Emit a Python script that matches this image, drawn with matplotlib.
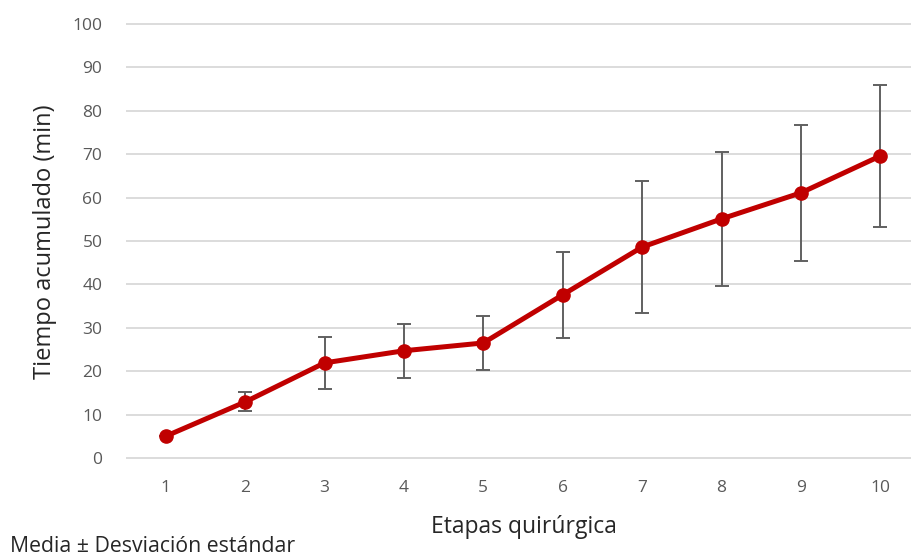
import matplotlib
matplotlib.use("Agg")
import matplotlib.pyplot as plt
import numpy as np

etapas = [1, 2, 3, 4, 5, 6, 7, 8, 9, 10]
media = [5.0, 12.9, 21.9, 24.7, 26.5, 37.6, 48.6, 55.1, 61.1, 69.6]
desv = [0.0, 2.2, 5.9, 6.2, 6.3, 9.9, 15.2, 15.5, 15.7, 16.3]
yticks = [0, 10, 20, 30, 40, 50, 60, 70, 80, 90, 100]

plt.rcParams['font.family'] = ['Open Sans', 'DejaVu Sans']

fig = plt.figure(figsize=(9.11, 5.56), dpi=100)
ax = fig.add_axes([126/911, 1-459/556, 1-126/911, 436/556])

ax.errorbar(etapas, media, yerr=desv, fmt='none', ecolor='#606060',
            elinewidth=1.4, capsize=5, capthick=1.4, zorder=2)
ax.plot(etapas, media, '-o', color='#c00000', lw=3.6, ms=9.5, zorder=3)

ax.set_xlim(0.5, 0.5 + 785/79.4)
ax.set_ylim(-0.25, 100.25)
ax.set_yticks(yticks)
ax.set_xticks(etapas)
ax.yaxis.grid(True, color='#d9d9d9', lw=1.3)
ax.set_axisbelow(True)
for s in ax.spines.values():
    s.set_visible(False)
ax.tick_params(length=0, labelsize=12.5, labelcolor='#595959')
ax.tick_params(axis='y', pad=17)
ax.tick_params(axis='x', pad=15)

fig.text(45/911, 1-242/556, "Tiempo acumulado (min)", fontsize=17, color='#262626',
         rotation=90, ha='center', va='center')
fig.text(524/911, 1-527/556, "Etapas quirúrgica", fontsize=16.5, color='#262626',
         ha='center', va='center')
fig.text(10/911, 1-546/556, "Media ± Desviación estándar", fontsize=15.3, color='#262626',
         ha='left', va='center')

fig.savefig("out.png", dpi=100)
